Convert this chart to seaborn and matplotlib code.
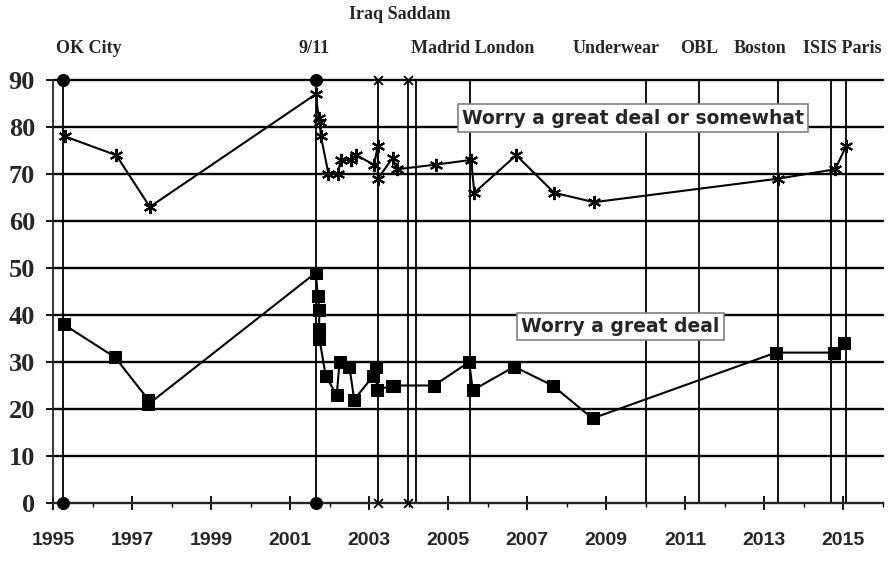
import matplotlib
matplotlib.use("Agg")
import matplotlib.pyplot as plt
import pandas as pd
import seaborn as sns

# Worry a great deal or somewhat (asterisks)
some_years = [1995.3, 1996.6, 1997.45, 2001.65, 2001.72, 2001.75, 2001.78, 2001.97,
              2002.2, 2002.28, 2002.54, 2002.67, 2003.12, 2003.22, 2003.22, 2003.6,
              2003.7, 2004.69, 2005.58, 2005.66, 2006.72, 2007.68, 2008.69, 2013.34,
              2014.79, 2015.07]
some_pct = [78, 74, 63, 87, 82, 81, 78, 70, 70, 73, 73, 74, 72, 76, 69, 73.5,
            71, 72, 73, 66, 74, 66, 64, 69, 71, 76]

# Worry a great deal (squares)
deal_years = [1995.27, 1996.57, 1997.41, 1997.41, 2001.65, 2001.7, 2001.74, 2001.73,
              2001.74, 2001.9, 2002.18, 2002.25, 2002.5, 2002.62, 2003.1, 2003.17,
              2003.2, 2003.57, 2003.64, 2004.64, 2005.53, 2005.62, 2006.67, 2007.64,
              2008.65, 2013.29, 2014.76, 2015.02]
deal_pct = [38, 31, 22, 21, 49, 44, 41, 37, 35, 27, 23, 30, 29, 22, 27, 29,
            24, 25, 25, 25, 30, 24, 29, 25, 18, 32, 32, 34]

# events marked with vertical lines
event_years = [1995.25, 2001.65, 2003.22, 2003.97, 2004.19, 2005.55, 2010.0,
               2011.35, 2013.35, 2014.68, 2015.07]
event_ends = ["o", "o", "x", "x", "", "", "", "", "", "", ""]

event_labels = ["OK City", "9/11", "Iraq Saddam", "Madrid London", "Underwear",
                "OBL", "Boston", "ISIS Paris"]
label_x = [1995.9, 2001.6, 2003.78, 2005.63, 2009.25, 2011.35, 2012.89, 2014.96]
label_y = [96.8, 96.8, 104, 96.8, 96.8, 96.8, 96.8, 96.8]

sns.set_style("white")
plt.rcParams["font.family"] = ["Liberation Serif", "DejaVu Serif"]

fig = plt.figure(figsize=(8.91, 5.65), dpi=100)
ax = fig.add_axes([53 / 891, 62 / 565, 830 / 891, 423 / 565])

some_df = pd.DataFrame({"year": some_years, "pct": some_pct})
deal_df = pd.DataFrame({"year": deal_years, "pct": deal_pct})

# horizontal grid
for v in range(10, 100, 10):
    ax.axhline(v, color="black", lw=1.7, zorder=1, clip_on=False)

# event lines
for yr, m in zip(event_years, event_ends):
    ax.plot([yr, yr], [0, 90], color="black", lw=1.3, zorder=2, clip_on=False)
    if m:
        ends = pd.DataFrame({"year": [yr, yr], "pct": [0, 90]})
        if m == "o":
            sns.scatterplot(data=ends, x="year", y="pct", ax=ax, marker="o", s=75,
                            color="black", edgecolor="black", zorder=4, clip_on=False)
        else:
            sns.scatterplot(data=ends, x="year", y="pct", ax=ax, marker="x", s=40,
                            color="black", linewidth=1.3, zorder=4, clip_on=False)

sns.lineplot(data=some_df, x="year", y="pct", ax=ax, sort=False, estimator=None,
             color="black", lw=1.5, marker=(6, 2, 0), markersize=9.5,
             markeredgewidth=1.5, markeredgecolor="black", zorder=3, clip_on=False)
sns.lineplot(data=deal_df, x="year", y="pct", ax=ax, sort=False, estimator=None,
             color="black", lw=1.5, marker="s", markersize=8,
             markeredgecolor="black", zorder=3, clip_on=False)

ax.set_xlim(1995, 2016)
ax.set_ylim(0, 90)
ax.set_xlabel("")
ax.set_ylabel("")

for side in ["top", "right"]:
    ax.spines[side].set_visible(False)
ax.spines["left"].set_linewidth(1.3)
ax.spines["bottom"].set_linewidth(1.7)

ax.set_yticks(range(0, 100, 10))
ax.set_yticklabels([str(v) for v in range(0, 100, 10)], fontsize=19,
                   fontweight="bold", family=["Liberation Serif"])
ax.set_xticks(range(1995, 2016, 2))
ax.set_xticks(range(1996, 2017, 2), minor=True)
ax.set_xticklabels([str(v) for v in range(1995, 2016, 2)], fontsize=14,
                   fontweight="bold", family=["Liberation Sans Narrow", "Liberation Sans"])
ax.tick_params(axis="y", left=True, length=5, width=1.3, pad=8, color="black")
ax.tick_params(axis="x", which="major", bottom=True, direction="inout", length=10,
               width=1.3, pad=16, color="black")
ax.tick_params(axis="x", which="minor", bottom=True, direction="out", length=3,
               width=1.0, color="black")

for txt, x, y in zip(event_labels, label_x, label_y):
    ax.text(x, y, txt, ha="center", va="center", fontsize=13, fontweight="bold",
            clip_on=False)

box = dict(boxstyle="square,pad=0.22", facecolor="white", edgecolor="#808080", lw=1.2)
ax.text(2009.68, 81.9, "Worry a great deal or somewhat", ha="center", va="center",
        fontsize=13.5, fontweight="heavy", family=["DejaVu Sans"], bbox=box, zorder=5)
ax.text(2009.36, 37.55, "Worry a great deal", ha="center", va="center",
        fontsize=13.5, fontweight="heavy", family=["DejaVu Sans"], bbox=box, zorder=5)

fig.savefig("out.png", dpi=100)
